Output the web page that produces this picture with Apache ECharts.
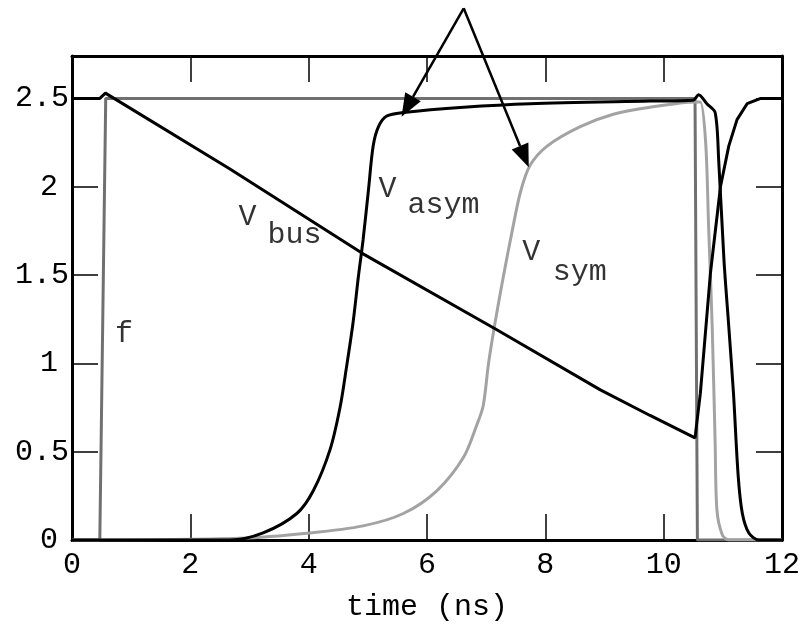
<!DOCTYPE html>
<html>
<head>
<meta charset="utf-8">
<script src="https://cdn.jsdelivr.net/npm/echarts@6/dist/echarts.min.js"></script>
<style>
  html, body { margin: 0; padding: 0; background: #fff; }
  #main { width: 807px; height: 627px; }
</style>
</head>
<body>
<div id="main"></div>
<script>
// f: step input
var fTime = [0, 0.47, 0.57, 10.53, 10.57, 12];
var fVolt = [0, 0, 2.5, 2.5, 0, 0];

// V bus
var busTime = [0, 0.47, 0.565, 2.67, 4.92, 7.18, 8.93, 9.77, 10.53, 10.62, 10.79, 10.96, 11.10, 11.24, 11.41, 11.64, 12];
var busVolt = [2.5, 2.5, 2.53, 2.10, 1.62, 1.19, 0.85, 0.705, 0.578, 0.83, 1.51, 2.0, 2.23, 2.38, 2.47, 2.5, 2.5];

// V asym
var asymTime = [0, 2.67, 3.23, 3.80, 4.08, 4.36, 4.53, 4.64, 4.75, 4.84, 4.92, 5.01, 5.09, 5.18, 5.32, 5.60, 6.62, 7.74, 9.77, 10.5, 10.59, 10.73, 10.87, 10.93, 11.02, 11.10, 11.18, 11.26, 11.33, 11.44, 11.61, 12];
var asymVolt = [0, 0, 0.04, 0.15, 0.28, 0.51, 0.75, 0.98, 1.23, 1.49, 1.70, 1.98, 2.23, 2.34, 2.40, 2.42, 2.45, 2.47, 2.485, 2.49, 2.52, 2.47, 2.42, 2.15, 1.58, 1.21, 0.83, 0.36, 0.15, 0.04, 0, 0];

// V sym
var symTime = [0, 2.84, 4.02, 4.92, 5.60, 6.17, 6.62, 6.84, 6.95, 7.04, 7.15, 7.29, 7.44, 7.58, 7.74, 8.03, 8.59, 9.15, 9.77, 10.55, 10.62, 10.71, 10.76, 10.82, 10.87, 10.90, 10.99, 11.1, 12];
var symVolt = [0, 0.01, 0.04, 0.08, 0.15, 0.28, 0.47, 0.65, 0.76, 1.00, 1.23, 1.49, 1.75, 1.97, 2.12, 2.23, 2.34, 2.41, 2.45, 2.48, 2.48, 2.25, 1.77, 1.21, 0.55, 0.17, 0.03, 0, 0];

// text labels on the curves
var labelText = ['f', 'V', 'bus', 'V', 'asym', 'V', 'sym'];
var labelX = [0.88, 2.965, 3.76, 5.333, 6.28, 7.76, 8.58];
var labelY = [1.166, 1.828, 1.726, 1.986, 1.896, 1.63, 1.517];

// arrows: shared start, two heads
var arrowFrom = [6.62, 3.01];
var arrowTo = [[5.57, 2.396], [7.72, 2.11]];

var yTicks = [0, 0.5, 1, 1.5, 2, 2.5];

function zip(a, b) {
  return a.map(function (v, i) { return [v, b[i]]; });
}

var monoFont = '"Liberation Mono", "DejaVu Sans Mono", monospace';

var myChart = echarts.init(document.getElementById('main'), null, { renderer: 'canvas' });

var axisCommon = {
  type: 'value',
  axisLine: { show: true, onZero: false, lineStyle: { color: '#000', width: 3 } },
  axisTick: { show: true, inside: true, length: 26, lineStyle: { color: '#000', width: 1.5 } },
  splitLine: { show: false }
};

var option = {
  backgroundColor: '#fff',
  animation: false,
  grid: { left: 72, right: 25, top: 56, bottom: 87 },
  xAxis: [
    Object.assign({}, axisCommon, {
      min: 0, max: 12, interval: 2,
      position: 'bottom',
      name: 'time (ns)',
      nameLocation: 'middle',
      nameGap: 52,
      nameTextStyle: { fontFamily: monoFont, fontSize: 30, color: '#000' },
      axisLabel: { margin: 10, fontFamily: monoFont, fontSize: 30, color: '#000' }
    }),
    Object.assign({}, axisCommon, {
      min: 0, max: 12, interval: 2,
      position: 'top',
      axisLabel: { show: false }
    })
  ],
  yAxis: [
    Object.assign({}, axisCommon, {
      min: 0, max: 2.74, interval: 0.5,
      position: 'left',
      axisLabel: {
        margin: 3, fontFamily: monoFont, fontSize: 30, color: '#000',
        showMaxLabel: false,
        formatter: function (v) {
          if (yTicks.indexOf(v) < 0) return '';
          return Number.isInteger(v) ? '{i|' + v + '}' : String(v);
        },
        rich: { i: { fontFamily: monoFont, fontSize: 30, color: '#000', padding: [0, 11, 0, 0] } }
      }
    }),
    Object.assign({}, axisCommon, {
      min: 0, max: 2.74, interval: 0.5,
      position: 'right',
      axisLabel: { show: false }
    })
  ],
  series: [
    {
      name: 'f', type: 'line', data: zip(fTime, fVolt),
      showSymbol: false, silent: true,
      lineStyle: { color: '#707070', width: 3 }
    },
    {
      name: 'Vsym', type: 'line', data: zip(symTime, symVolt),
      showSymbol: false, silent: true, smooth: 0.3,
      lineStyle: { color: '#a3a3a3', width: 3 }
    },
    {
      name: 'Vasym', type: 'line', data: zip(asymTime, asymVolt),
      showSymbol: false, silent: true, smooth: 0.3,
      lineStyle: { color: '#000', width: 3 }
    },
    {
      name: 'Vbus', type: 'line', data: zip(busTime, busVolt),
      showSymbol: false, silent: true,
      lineStyle: { color: '#000', width: 3 }
    },
    {
      name: 'labels', type: 'scatter', silent: true, clip: false,
      symbolSize: 0,
      data: labelText.map(function (t, i) { return { name: t, value: [labelX[i], labelY[i]] }; }),
      label: {
        show: true, position: 'inside',
        formatter: function (p) { return p.name; },
        fontFamily: monoFont, fontSize: 30, color: '#000'
      }
    }
  ]
};

myChart.setOption(option);

// arrows and the clipped heading, placed through the grid's own scale
function drawOverlay() {
  var p0 = myChart.convertToPixel({ gridIndex: 0 }, arrowFrom);
  var els = [{
    type: 'text', id: 'heading', silent: true,
    x: 38, y: -43,
    // bottom padding keeps the box on the canvas so it is not culled
    style: { text: 'Asymmetric Signal', font: '41px "Noto Sans", sans-serif', fill: '#000', padding: [0, 0, 12, 0] }
  }];
  arrowTo.forEach(function (to, i) {
    var p1 = myChart.convertToPixel({ gridIndex: 0 }, to);
    var dx = p1[0] - p0[0], dy = p1[1] - p0[1];
    var len = Math.sqrt(dx * dx + dy * dy);
    var ux = dx / len, uy = dy / len;
    var headLen = 23, headHalf = 9;
    var bx = p1[0] - ux * headLen, by = p1[1] - uy * headLen;
    els.push({
      type: 'line', id: 'arrowLine' + i, silent: true, z: 10,
      shape: { x1: p0[0], y1: p0[1], x2: bx, y2: by },
      style: { stroke: '#000', lineWidth: 2.5 }
    });
    els.push({
      type: 'polygon', id: 'arrowHead' + i, silent: true, z: 10,
      shape: { points: [[p1[0], p1[1]], [bx - uy * headHalf, by + ux * headHalf], [bx + uy * headHalf, by - ux * headHalf]] },
      style: { fill: '#000' }
    });
  });
  myChart.setOption({ graphic: els });
}
drawOverlay();
</script>
</body>
</html>
